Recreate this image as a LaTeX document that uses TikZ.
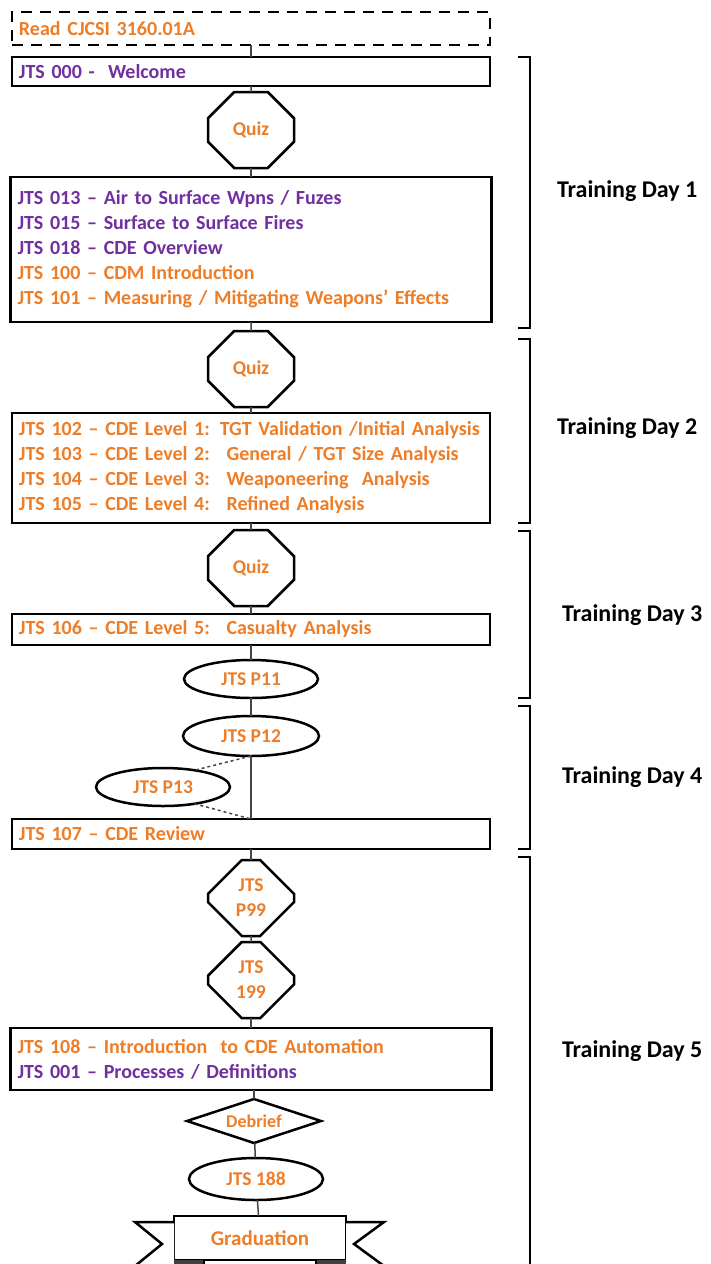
\documentclass[tikz,border=0pt]{standalone}
\usepackage{fontspec}
\setmainfont{Carlito}
\usetikzlibrary{positioning,shapes.geometric,shapes.misc}
\definecolor{jtsorange}{RGB}{238,125,40}
\definecolor{jtspurple}{RGB}{112,48,160}
\definecolor{linkgrey}{RGB}{70,70,70}

\begin{document}
\begin{tikzpicture}[
    x=1pt, y=-1pt,
    font=\fontsize{20}{25}\selectfont\bfseries,
    every node/.style={outer sep=0pt},
    lesson/.style={
        draw=black,
        fill=white,
        line width=2.5pt,
        align=left,
        inner xsep=7pt,
        inner ysep=0pt,
        text width=464pt
    },
    reading/.style={
        lesson,
        dash pattern=on 11pt off 8pt
    },
    quiz/.style={
        draw=black,
        fill=white,
        line width=2.5pt,
        chamfered rectangle,
        chamfered rectangle sep=20pt,
        minimum width=86pt,
        minimum height=76pt,
        inner sep=0pt,
        align=center,
        font=\fontsize{19.5}{25}\selectfont\bfseries,
        text=jtsorange
    },
    practical/.style={
        draw=black,
        fill=white,
        line width=2.5pt,
        ellipse,
        minimum width=134pt,
        minimum height=39pt,
        inner sep=0pt,
        font=\fontsize{19.5}{25}\selectfont\bfseries,
        text=jtsorange
    },
    debriefbox/.style={
        draw=black,
        fill=white,
        line width=2.5pt,
        diamond,
        aspect=3,
        minimum width=134pt,
        minimum height=44pt,
        inner sep=0pt,
        font=\fontsize{18}{20}\selectfont\bfseries,
        text=jtsorange
    },
    ribbon/.style={
        draw=black,
        fill=white,
        line width=2.5pt,
        minimum width=172pt,
        minimum height=44pt,
        inner sep=0pt,
        font=\fontsize{21}{24}\selectfont\bfseries,
        text=jtsorange
    },
    link/.style={
        line width=1.5pt,
        draw=linkgrey
    },
    dayspan/.style={
        line width=2.5pt,
        draw=black
    },
    daylabel/.style={
        anchor=west,
        inner sep=0pt,
        font=\fontsize{24}{26}\selectfont\bfseries
    }
]
    \useasboundingbox (0,0) rectangle (710,1264);
    \clip (0,0) rectangle (710,1264);

    % Day 1
    \node[reading, minimum height=33pt, text=jtsorange] (read) at (251,28.5) {Read CJCSI 3160.01A};
    \node[lesson, below=12pt of read, minimum height=29pt, text=jtspurple] (welcome) {JTS 000 - \ Welcome};
    \node[quiz, below=6pt of welcome] (quiz1) {Quiz};
    \node[lesson, below=9pt of quiz1, minimum height=145pt, text width=467pt] (lessons1) {
        \textcolor{jtspurple}{JTS 013 -- Air to Surface Wpns / Fuzes}\\
        \textcolor{jtspurple}{JTS 015 -- Surface to Surface Fires}\\
        \textcolor{jtspurple}{JTS 018 -- CDE Overview}\\
        \textcolor{jtsorange}{JTS 100 -- CDM Introduction}\\
        \textcolor{jtsorange}{JTS 101 -- Measuring / Mitigating Weapons' Effects}
    };

    % Day 2
    \node[quiz, below=9pt of lessons1] (quiz2) {Quiz};
    \node[lesson, below=6pt of quiz2, minimum height=110pt, text=jtsorange] (lessons2) {
        \mbox{JTS 102 -- CDE Level 1: TGT Validation /Initial Analysis}\\
        JTS 103 -- CDE Level 2: \ General / TGT Size Analysis\\
        JTS 104 -- CDE Level 3: \ Weaponeering \ Analysis\\
        JTS 105 -- CDE Level 4: \ Refined Analysis
    };

    % Day 3
    \node[quiz, below=7pt of lessons2] (quiz3) {Quiz};
    \node[lesson, below=8pt of quiz3, minimum height=31pt, text=jtsorange] (jts106) {JTS 106 -- CDE Level 5: \ Casualty Analysis};
    \node[practical, below=15pt of jts106, minimum height=38pt] (p11) {JTS P11};

    % Day 4
    \node[practical, below=18pt of p11, minimum width=136pt, minimum height=40pt] (p12) {JTS P12};
    \node[lesson, below=63pt of p12, minimum height=30pt, text=jtsorange] (jts107) {JTS 107 -- CDE Review};
    \node[practical, minimum height=38pt] (p13) at (163,787) {JTS P13};

    % Day 5
    \node[quiz, below=11pt of jts107] (p99) {JTS\\P99};
    \node[quiz, below=6pt of p99] (jts199) {JTS\\199};
    \node[lesson, below=10pt of jts199, minimum height=62pt, text width=467pt] (lessons5) {
        \textcolor{jtsorange}{JTS 108 -- Introduction \ to CDE Automation}\\
        \textcolor{jtspurple}{JTS 001 -- Processes / Definitions}
    };
    \node[debriefbox, below=9pt of lessons5, xshift=3pt] (debrief) {Debrief};
    \node[practical, below=15pt of debrief, minimum height=42pt, xshift=2pt] (jts188) {JTS 188};
    \node[ribbon, below=16pt of jts188, xshift=4pt] (grad) {Graduation};

    % Ribbon tails
    \draw[dayspan, fill=white] ([yshift=-6pt]grad.north west) -- ++(-39,0) -- ++(27,22) -- ++(-27,22) -- ++(39,0);
    \draw[dayspan, fill=white] ([yshift=-6pt]grad.north east) -- ++(38,0) -- ++(-30,22) -- ++(30,22) -- ++(-38,0);
    \fill[black!75] (grad.south west) rectangle ++(30,10);
    \fill[black!75] (grad.south east) rectangle ++(-30,10);
    \draw[line width=1.5pt] ([xshift=30pt]grad.south west) -- ++(0,10);
    \draw[line width=1.5pt] ([xshift=-30pt]grad.south east) -- ++(0,10);

    % Connections
    \draw[link] (read) -- (welcome);
    \draw[link] (welcome) -- (quiz1);
    \draw[link] (quiz1) -- (lessons1);
    \draw[link] (lessons1) -- (quiz2);
    \draw[link] (quiz2) -- (lessons2);
    \draw[link] (lessons2) -- (quiz3);
    \draw[link] (quiz3) -- (jts106);
    \draw[link] (jts106) -- (p11);
    \draw[link] (p11) -- (p12);
    \draw[link] (p12) -- (jts107);
    \draw[link, dashed] (p12.south) -- (p13.28);
    \draw[link, dashed] (p13.-28) -- (jts107.north -| p12);
    \draw[link] (jts107) -- (p99);
    \draw[link] (p99) -- (jts199);
    \draw[link] (jts199) -- (lessons5);
    \draw[link] (lessons5.south -| debrief) -- (debrief);
    \draw[link] (debrief) -- (jts188);
    \draw[link] (jts188) -- (grad);

    % Training day brackets
    \draw[dayspan] (518,57) -- (530,57) -- (530,328) -- (518,328);
    \draw[dayspan] (518,339) -- (530,339) -- (530,523) -- (518,523);
    \draw[dayspan] (518,531) -- (530,531) -- (530,698) -- (518,698);
    \draw[dayspan] (518,706) -- (530,706) -- (530,849) -- (518,849);
    \draw[dayspan] (518,857) -- (530,857) -- (530,1270);

    \node[daylabel] (day1) at (557,191) {Training Day 1};
    \node[daylabel] (day2) at (557,428) {Training Day 2};
    \node[daylabel] (day3) at (562,615) {Training Day 3};
    \node[daylabel] (day4) at (562,777) {Training Day 4};
    \node[daylabel] (day5) at (562,1051) {Training Day 5};

\end{tikzpicture}
\end{document}
